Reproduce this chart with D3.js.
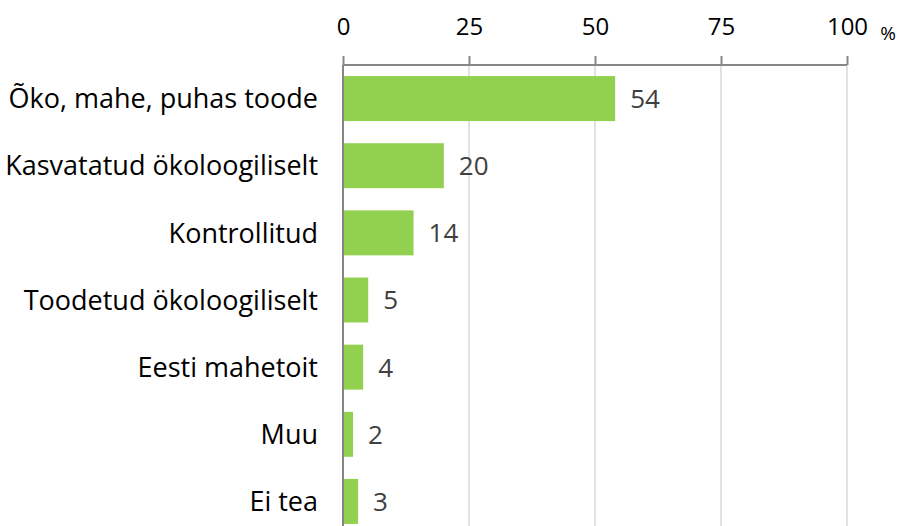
<!DOCTYPE html>
<html>
<head>
<meta charset="utf-8">
<script src="https://cdn.jsdelivr.net/npm/d3@7"></script>
<style>
  body { margin: 0; background: #fff; }
  text { font-family: "Open Sans", "Liberation Sans", sans-serif; }
</style>
</head>
<body>
<svg></svg>
<script>
var categories = ["Õko, mahe, puhas toode", "Kasvatatud ökoloogiliselt", "Kontrollitud",
                  "Toodetud ökoloogiliselt", "Eesti mahetoit", "Muu", "Ei tea"]
var values = [54, 20, 14, 5, 4, 2, 3]
var ticks = [0, 25, 50, 75, 100]

var screen = {width:900, height:526}
var margins = {top:65, right:53, bottom:-9, left:343}

var svg = d3.select("svg")
  .attr("width", screen.width)
  .attr("height", screen.height)

var width = screen.width - margins.left - margins.right
var height = screen.height - margins.top - margins.bottom

var xScale = d3.scaleLinear().domain([0, 100]).range([0, width])
var yScale = d3.scaleBand().domain(categories).range([0, height]).paddingInner(0.33).paddingOuter(0.165)

var graph = svg.append("g")
  .attr("transform", "translate(" + margins.left + "," + margins.top + ")")

// gridlines
graph.selectAll(".grid")
  .data(ticks.slice(1))
  .enter()
  .append("line")
  .attr("x1", function(t){ return xScale(t) })
  .attr("x2", function(t){ return xScale(t) })
  .attr("y1", 0)
  .attr("y2", screen.height)
  .attr("stroke", "#d9d9d9")
  .attr("stroke-width", 1.5)

// bars
graph.selectAll(".bar")
  .data(values)
  .enter()
  .append("rect")
  .attr("x", 0)
  .attr("y", function(v, i){ return yScale(categories[i]) })
  .attr("width", function(v){ return xScale(v) })
  .attr("height", yScale.bandwidth())
  .attr("fill", "#92d050")

// value labels
graph.selectAll(".val")
  .data(values)
  .enter()
  .append("text")
  .attr("x", function(v){ return xScale(v) + 15 })
  .attr("y", function(v, i){ return yScale(categories[i]) + yScale.bandwidth() / 2 })
  .attr("dy", "0.36em")
  .attr("font-size", 26)
  .attr("fill", "#404040")
  .text(function(v){ return v })

// category labels
graph.selectAll(".cat")
  .data(categories)
  .enter()
  .append("text")
  .attr("x", -25)
  .attr("y", function(c){ return yScale(c) + yScale.bandwidth() / 2 })
  .attr("dy", "0.36em")
  .attr("text-anchor", "end")
  .attr("font-size", 27)
  .attr("fill", "#000")
  .text(function(c){ return c })

// axis at top
var xAxis = d3.axisTop(xScale).tickValues(ticks).tickSize(9).tickPadding(21)
var axisG = graph.append("g").call(xAxis)
axisG.select(".domain").attr("stroke", "#868686").attr("stroke-width", 2)
  .attr("d", "M0,0H" + width)
axisG.selectAll(".tick line").attr("stroke", "#868686").attr("stroke-width", 2)
axisG.selectAll(".tick text").attr("font-size", 24).attr("fill", "#000")
  .attr("font-family", "'Open Sans', sans-serif")

// zero line
graph.append("line")
  .attr("x1", 0).attr("x2", 0)
  .attr("y1", 0).attr("y2", screen.height)
  .attr("stroke", "#868686")
  .attr("stroke-width", 2)

svg.append("text")
  .attr("x", 888)
  .attr("y", 40)
  .attr("text-anchor", "middle")
  .attr("font-size", 19)
  .attr("fill", "#000")
  .text("%")
</script>
</body>
</html>
